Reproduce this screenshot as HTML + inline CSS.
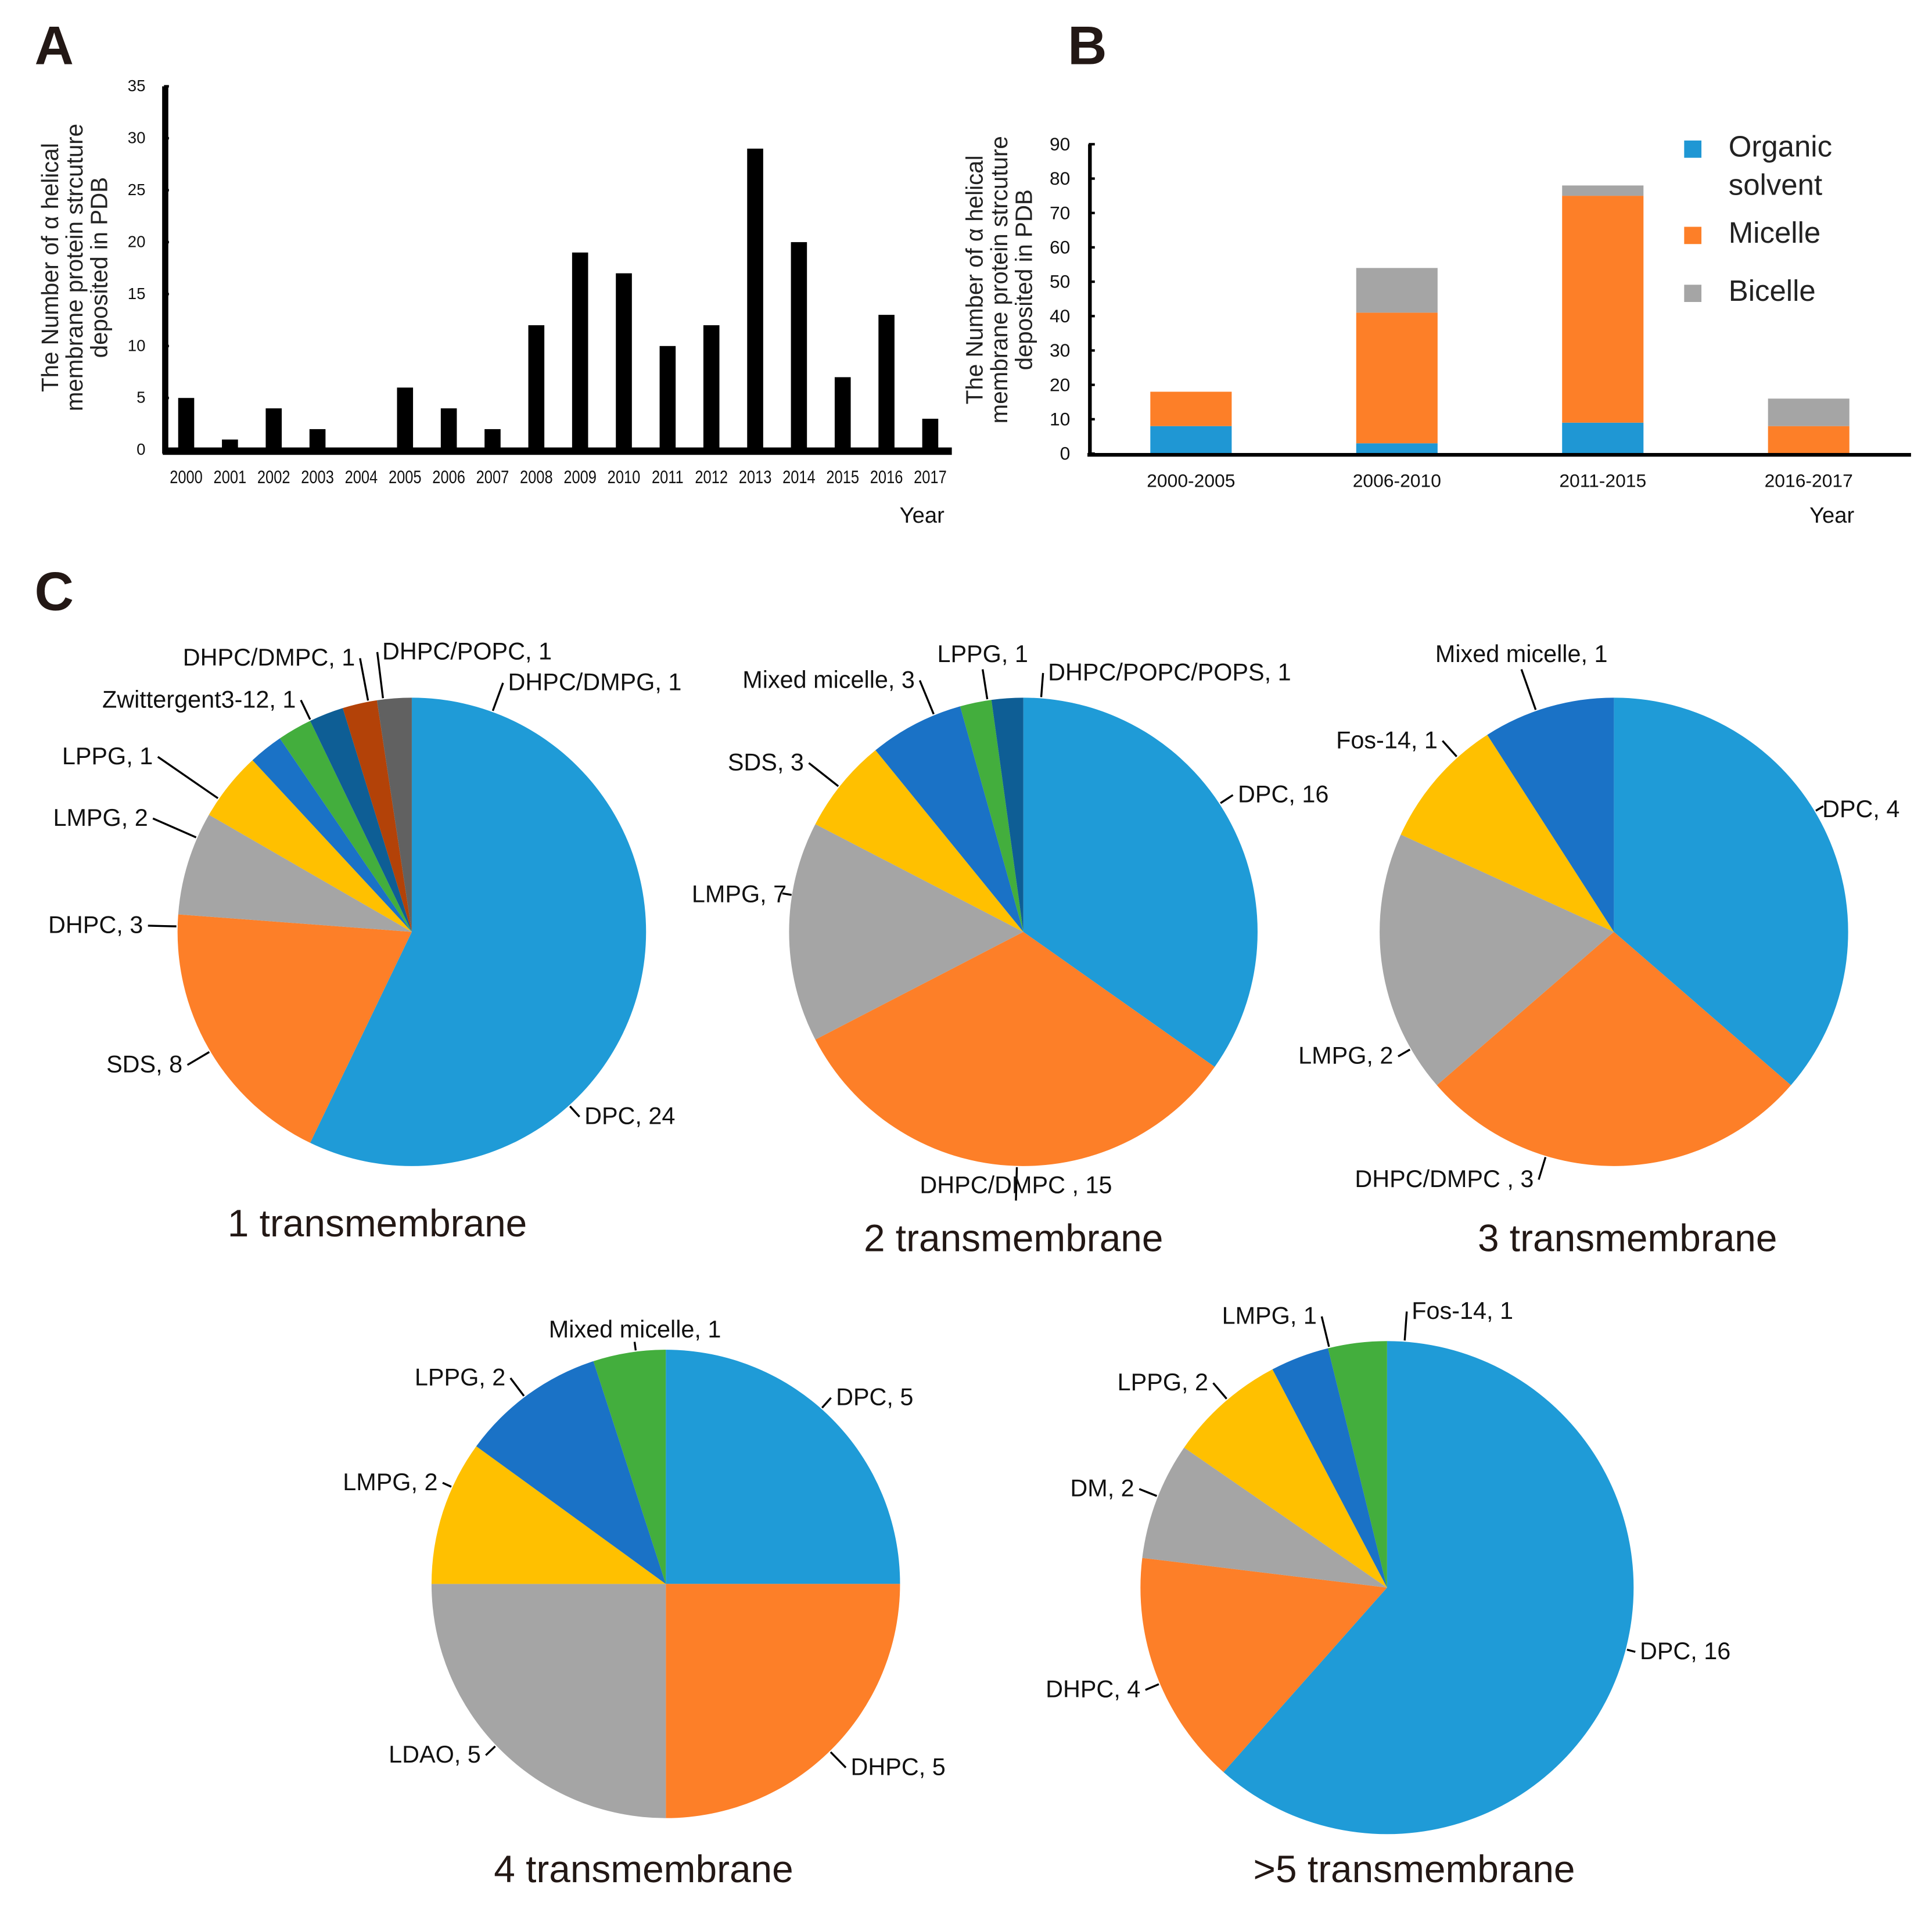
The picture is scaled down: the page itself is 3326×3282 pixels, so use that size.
<!DOCTYPE html>
<html><head><meta charset="utf-8"><style>
html,body{margin:0;padding:0;background:#fff;}
svg{display:block;font-family:"Liberation Sans",sans-serif;}
</style></head><body>
<svg id="fig" width="3326" height="3282" viewBox="0 0 1567 1546.3" xmlns="http://www.w3.org/2000/svg">
<rect width="1567" height="1547" fill="#fff"/>
<text x="28" y="52" font-size="44" font-weight="bold" fill="#231815">A</text>
<text x="866" y="52" font-size="44" font-weight="bold" fill="#231815">B</text>
<text x="28" y="495" font-size="44" font-weight="bold" fill="#231815">C</text>
<g font-size="19" fill="#222" text-anchor="middle" transform="translate(60,217) rotate(-90)">
<text x="0" y="-13">The Number of α helical</text><text x="0" y="7">membrane protein strcuture</text><text x="0" y="27">deposited in PDB</text></g>
<g font-size="19" fill="#222" text-anchor="middle" transform="translate(810,227) rotate(-90)">
<text x="0" y="-13">The Number of α helical</text><text x="0" y="7">membrane protein strcuture</text><text x="0" y="27">deposited in PDB</text></g>
<g id="gA"></g><g id="gB"></g><g id="gC"></g>
</svg>
<script>
// Panel A data
const yearsA = ["2000","2001","2002","2003","2004","2005","2006","2007","2008","2009","2010","2011","2012","2013","2014","2015","2016","2017"];
const countsA = [5,1,4,2,0,6,4,2,12,19,17,10,12,29,20,7,13,3];
const ticksA = [0,5,10,15,20,25,30,35];
// Panel B data
const periodsB = ["2000-2005","2006-2010","2011-2015","2016-2017"];
const organicB = [8,3,9,0];
const micelleB = [10,38,66,8];
const bicelleB = [0,13,3,8];
const ticksB = [0,10,20,30,40,50,60,70,80,90];
// Pie data
const pie1Labels = ["DPC, 24","SDS, 8","DHPC, 3","LMPG, 2","LPPG, 1","Zwittergent3-12, 1","DHPC/DMPC, 1","DHPC/POPC, 1","DHPC/DMPG, 1"];
const pie1Values = [24,8,3,2,1,1,1,1,1];
const pie2Labels = ["DPC, 16","DHPC/DMPC , 15","LMPG, 7","SDS, 3","Mixed micelle, 3","LPPG, 1","DHPC/POPC/POPS, 1"];
const pie2Values = [16,15,7,3,3,1,1];
const pie3Labels = ["DPC, 4","DHPC/DMPC , 3","LMPG, 2","Fos-14, 1","Mixed micelle, 1"];
const pie3Values = [4,3,2,1,1];
const pie4Labels = ["DPC, 5","DHPC, 5","LDAO, 5","LMPG, 2","LPPG, 2","Mixed micelle, 1"];
const pie4Values = [5,5,5,2,2,1];
const pie5Labels = ["DPC, 16","DHPC, 4","DM, 2","LPPG, 2","LMPG, 1","Fos-14, 1"];
const pie5Values = [16,4,2,2,1,1];

const NS="http://www.w3.org/2000/svg";
function mk(tag,attrs,parent){const e=document.createElementNS(NS,tag);for(const k in attrs)e.setAttribute(k,attrs[k]);parent.appendChild(e);return e;}

// ---- Panel A
const gA=document.getElementById('gA');
const aY=v=>365-v*(295/35);
const aX=i=>151+i*35.5;
ticksA.forEach(t=>{const tx=mk('text',{x:118,y:aY(t)+4,'font-size':13,'text-anchor':'end',fill:'#111'},gA);tx.textContent=t;


mk('line',{x1:133,x2:137,y1:aY(t),y2:aY(t),stroke:'#000','stroke-width':2},gA);});
countsA.forEach((v,i)=>{const r=mk('rect',{x:aX(i)-6.5,y:aY(v),width:13,height:aY(0)-aY(v),fill:'#000'},gA);


const t=mk('text',{x:aX(i),y:392,'font-size':15,'text-anchor':'middle',fill:'#111',transform:`translate(${aX(i)},0) scale(0.8,1) translate(${-aX(i)},0)`},gA);t.textContent=yearsA[i];

});
mk('line',{x1:134,x2:134,y1:70,y2:368,stroke:'#000','stroke-width':5},gA);
mk('line',{x1:132,x2:772,y1:366,y2:366,stroke:'#000','stroke-width':6},gA);
let yt=mk('text',{x:766,y:424,'font-size':18,'text-anchor':'end',fill:'#111'},gA);yt.textContent='Year';



// ---- Panel B
const gB=document.getElementById('gB');
const bY=v=>368-v*(251/90);
const bX=i=>966+i*167;
ticksB.forEach(t=>{const tx=mk('text',{x:868,y:bY(t)+5,'font-size':15,'text-anchor':'end',fill:'#111'},gB);tx.textContent=t;


mk('line',{x1:883,x2:888,y1:bY(t),y2:bY(t),stroke:'#000','stroke-width':2},gB);});
const colsB=['#1f97d4','#fd7f28','#a5a5a5'];
periodsB.forEach((p,i)=>{let base=0;[organicB,micelleB,bicelleB].forEach((s,k)=>{const v=s[i];if(v>0){const r=mk('rect',{x:bX(i)-33,y:bY(base+v),width:66,height:bY(base)-bY(base+v),fill:colsB[k]},gB);

}base+=v;});
const t=mk('text',{x:bX(i),y:395,'font-size':15,'text-anchor':'middle',fill:'#111'},gB);t.textContent=p;

});
mk('line',{x1:884,x2:884,y1:117,y2:370,stroke:'#000','stroke-width':3},gB);
mk('line',{x1:882,x2:1550,y1:369,y2:369,stroke:'#000','stroke-width':3},gB);
yt=mk('text',{x:1504,y:424,'font-size':18,'text-anchor':'end',fill:'#111'},gB);yt.textContent='Year';


[['Organic',126,0],['solvent',157,-1],['Micelle',196,1],['Bicelle',243,2]].forEach(([s,y,k])=>{
if(k>=0){const r=mk('rect',{x:1366,y:y-12,width:14,height:14,fill:colsB[k]},gB);

}
const t=mk('text',{x:1402,y:y+1,'font-size':24,fill:'#222'},gB);t.textContent=s;

});

// ---- Pies
const gC=document.getElementById('gC');
const BLUE='#1f9bd7',OR='#fd7f28',GR='#a5a5a5',YE='#ffc000',DB='#1a72c6',GN='#43ae3d',NV='#0e5e95',BR='#b34208',DG='#616161';
function pie(name,cx,cy,r,labels,values,colors,labpos,title,tpos){
 const g=mk('g',{},gC);
 
 
 const tot=values.reduce((a,b)=>a+b,0);let a0=0;
 values.forEach((v,i)=>{const a1=a0+v/tot*2*Math.PI;
  const p=a=>[cx+r*Math.sin(a),cy-r*Math.cos(a)];
  const [x0,y0]=p(a0),[x1,y1]=p(a1);
  const path=mk('path',{d:`M${cx},${cy}L${x0},${y0}A${r},${r} 0 ${a1-a0>Math.PI?1:0} 1 ${x1},${y1}Z`,fill:colors[i]},g);
  
  
  a0=a1;});
 values.forEach((v,i)=>{
  const lp=labpos[i];const anc=lp[2];
  const lx=anc==='end'?lp[0]+4:anc==='start'?lp[0]-4:lp[0];const ly=anc==='middle'?lp[1]+6:lp[1]-6;
  const ang=Math.atan2(lx-cx,cy-ly);
  const ex=cx+(r+1)*Math.sin(ang),ey=cy-(r+1)*Math.cos(ang);
  const mx=cx+(r+8)*Math.sin(ang),my=cy-(r+8)*Math.cos(ang);
  mk('polyline',{points:`${ex},${ey} ${mx},${my} ${lx},${ly}`,fill:'none',stroke:'#000','stroke-width':1.6},g);
  const t=mk('text',{x:lp[0],y:lp[1],'font-size':19.5,'text-anchor':anc,fill:'#111'},g);t.textContent=labels[i];
  
  });
 const t=mk('text',{x:tpos[0],y:tpos[1],'font-size':31,'text-anchor':'middle',fill:'#231815'},g);t.textContent=title;
 
 
}
pie('pie-1-transmembrane',334,756,190,pie1Labels,pie1Values,[BLUE,OR,GR,YE,DB,GN,NV,BR,DG],
 [[474,912,'start'],[148,870,'end'],[116,757,'end'],[120,670,'end'],[124,620,'end'],[240,574,'end'],[288,540,'end'],[310,535,'start'],[412,560,'start']],'1 transmembrane',[306,1003]);
pie('pie-2-transmembrane',830,756,190,pie2Labels,pie2Values,[BLUE,OR,GR,YE,DB,GN,NV],
 [[1004,651,'start'],[824,968,'middle'],[638,732,'end'],[652,625,'end'],[742,558,'end'],[797,537,'middle'],[850,552,'start']],'2 transmembrane',[822,1015]);
pie('pie-3-transmembrane',1309,756,190,pie3Labels,pie3Values,[BLUE,OR,GR,YE,DB],
 [[1478,663,'start'],[1244,963,'end'],[1130,863,'end'],[1166,607,'end'],[1234,537,'middle']],'3 transmembrane',[1320,1015]);
pie('pie-4-transmembrane',540,1285,190,pie4Labels,pie4Values,[BLUE,OR,GR,YE,DB,GN],
 [[678,1140,'start'],[690,1440,'start'],[390,1430,'end'],[355,1209,'end'],[410,1124,'end'],[515,1085,'middle']],'4 transmembrane',[522,1527]);
pie('pie-5-transmembrane',1125,1288,200,pie5Labels,pie5Values,[BLUE,OR,GR,YE,DB,GN],
 [[1330,1346,'start'],[925,1377,'end'],[920,1214,'end'],[980,1128,'end'],[1068,1074,'end'],[1145,1070,'start']],'>5 transmembrane',[1147,1527]);
</script>
</body></html>
